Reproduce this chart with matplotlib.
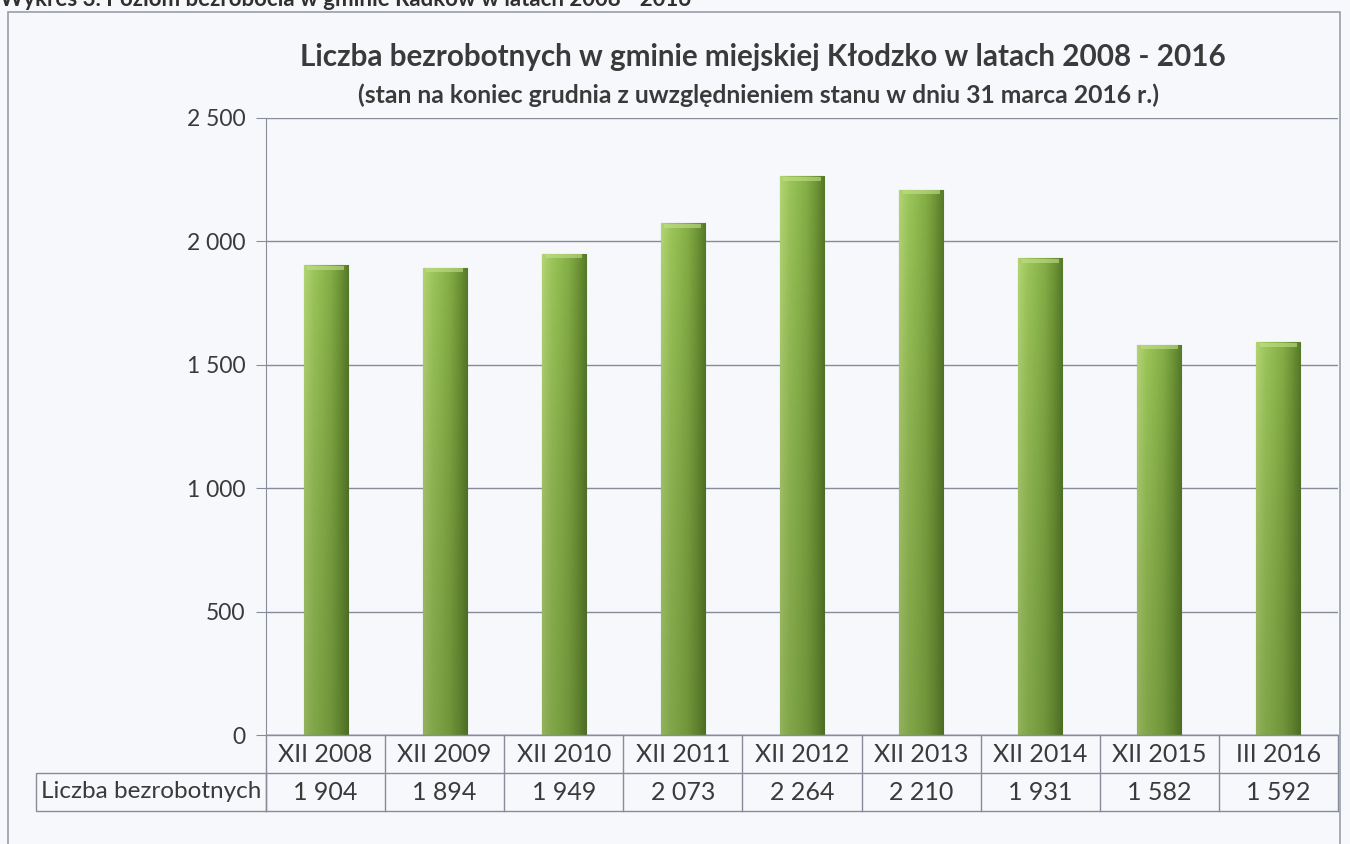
import numpy as np
import matplotlib.pyplot as plt
from matplotlib.patches import Rectangle
from matplotlib.colors import LinearSegmentedColormap

plt.rcParams['font.family'] = ['Lato', 'DejaVu Sans']

# ── Data ──────────────────────────────────────────────────────────────────────
periods = ["XII 2008", "XII 2009", "XII 2010", "XII 2011", "XII 2012",
           "XII 2013", "XII 2014", "XII 2015", "III 2016"]
unemployed = [1904, 1894, 1949, 2073, 2264, 2210, 1931, 1582, 1592]
value_labels = ["1 904", "1 894", "1 949", "2 073", "2 264",
                "2 210", "1 931", "1 582", "1 592"]
yticks = [0, 500, 1000, 1500, 2000, 2500]
ytick_labels = ["0", "500", "1 000", "1 500", "2 000", "2 500"]
row_label = "Liczba bezrobotnych"

W, H = 1350, 844
bg = "#f7f8fb"
text_col = "#3a3a3a"
line_col = "#878b9c"

fig = plt.figure(figsize=(W / 100, H / 100), dpi=100, facecolor=bg)

# outer chart frame (bottom runs off the page)
fig.patches.append(Rectangle((8 / W, -0.05), (1340 - 8) / W, 1 + 0.05 - 12 / H,
                             transform=fig.transFigure, fill=False,
                             edgecolor="#9a9ea8", linewidth=1.2))

# page caption above the chart, clipped by the page edge as in the scan
fig.text(0.0, 1.0 + 1 / H, "Wykres 3. Poziom bezrobocia w gminie Radków w latach 2008 - 2016",
         fontsize=16, fontweight="bold", color="#303030", ha="left", va="center")

ax = fig.add_axes([266 / W, 1 - 735 / H, (1338 - 266) / W, (735 - 118) / H])
ax.set_facecolor("none")

x = np.arange(len(periods))
bars = ax.bar(x, unemployed, width=0.37, color="#86ae48", edgecolor="#5a8226",
              linewidth=0.8, zorder=3)

# bevel-like horizontal gradient on each bar
cmap = LinearSegmentedColormap.from_list(
    "bevel", ["#b2d474", "#9cc55a", "#90bb50", "#84ad46", "#6f9636", "#56792a"])
grad = np.linspace(0, 1, 64).reshape(1, -1)
shade = LinearSegmentedColormap.from_list("shade", [(0.2, 0.3, 0.1, 0.25), (0, 0, 0, 0)])
vgrad = np.linspace(0, 1, 64).reshape(-1, 1)
for b in bars:
    bx, bw, bh = b.get_x(), b.get_width(), b.get_height()
    im = ax.imshow(grad, cmap=cmap, aspect="auto", zorder=4,
                   extent=(bx, bx + bw, 0, bh), interpolation="bicubic")
    im.set_clip_path(b)
    # slightly darker towards the bottom
    im2 = ax.imshow(vgrad[::-1], cmap=shade, aspect="auto", zorder=4.5, origin="upper",
                    extent=(bx, bx + bw, 0, bh), interpolation="bicubic")
    im2.set_clip_path(b)
    # light top edge
    ax.fill_between([bx + bw * 0.08, bx + bw * 0.92], bh - 18, bh - 2,
                    color="#c4e08c", alpha=0.6, zorder=5, linewidth=0)

ax.set_xlim(-0.5, len(periods) - 0.5)
ax.set_ylim(0, 2500)
ax.set_yticks(yticks)
ax.set_yticklabels(ytick_labels, fontsize=16.5, color=text_col)
ax.set_xticks([])
ax.tick_params(axis="y", length=7, color=line_col, pad=8)
ax.grid(True, axis="y", color=line_col, linewidth=1.0, zorder=0)
for s in ["top", "right", "bottom"]:
    ax.spines[s].set_visible(False)
ax.spines["left"].set_color(line_col)
ax.axhline(0, color=line_col, linewidth=1.0, zorder=6)

# ── Data table under the axis ─────────────────────────────────────────────────
row_h = 38 / (735 - 118)
label_left = (36 - 266) / (1338 - 266)
tr = ax.get_xaxis_transform()
n = len(periods)
for yy in [0, -row_h, -2 * row_h]:
    ax.plot([-0.5, n - 0.5], [yy, yy], transform=tr, color=line_col, lw=1.0, clip_on=False)
for i in range(n + 1):
    ax.plot([i - 0.5, i - 0.5], [0, -2 * row_h], transform=tr, color=line_col,
            lw=1.0, clip_on=False)
for i, (p, v) in enumerate(zip(periods, value_labels)):
    ax.text(i, -row_h / 2, p, transform=tr, ha="center", va="center",
            fontsize=18, color=text_col)
    ax.text(i, -1.5 * row_h, v, transform=tr, ha="center", va="center",
            fontsize=18, color=text_col)
# row label cell
ax.add_patch(Rectangle((label_left, -2 * row_h), -label_left, row_h,
                       transform=ax.transAxes, fill=False, edgecolor=line_col,
                       lw=1.0, clip_on=False))
ax.text(label_left + 0.005, -1.5 * row_h, row_label, transform=ax.transAxes,
        ha="left", va="center", fontsize=17.5, color=text_col)

# ── Titles ────────────────────────────────────────────────────────────────────
fig.text(763 / W, 1 - 57 / H,
         "Liczba bezrobotnych w gminie miejskiej Kłodzko w latach 2008 - 2016",
         ha="center", va="center", fontsize=21.3, fontweight="bold", color=text_col)
fig.text(758 / W, 1 - 95 / H,
         "(stan na koniec grudnia z uwzględnieniem stanu w dniu 31 marca 2016 r.)",
         ha="center", va="center", fontsize=17.8, fontweight="bold", color=text_col)

fig.savefig("out.png", dpi=100, facecolor=bg)
